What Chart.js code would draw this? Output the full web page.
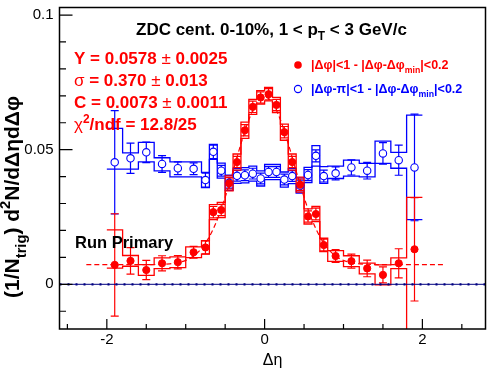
<!DOCTYPE html>
<html>
<head>
<meta charset="utf-8">
<script src="https://cdn.jsdelivr.net/npm/chart.js@4/dist/chart.umd.min.js"></script>
<style>
  html, body { margin: 0; padding: 0; background: #fff; }
  canvas { display: block; }
</style>
</head>
<body>
<canvas id="myChart" width="496" height="374"></canvas>
<script>
// bin centres and half widths in delta-eta
var etaCenters = [-1.9, -1.7, -1.5, -1.3, -1.1, -0.9, -0.75, -0.65, -0.55, -0.45, -0.35, -0.25, -0.15, -0.05,
                  0.05, 0.15, 0.25, 0.35, 0.45, 0.55, 0.65, 0.75, 0.9, 1.1, 1.3, 1.5, 1.7, 1.9];
var etaHalfWidth = [0.1, 0.1, 0.1, 0.1, 0.1, 0.1, 0.05, 0.05, 0.05, 0.05, 0.05, 0.05, 0.05, 0.05,
                    0.05, 0.05, 0.05, 0.05, 0.05, 0.05, 0.05, 0.05, 0.1, 0.1, 0.1, 0.1, 0.1, 0.1];

// near side |dphi|<1 (red, filled)
var nearYield = [0.0072, 0.0087, 0.0053, 0.0078, 0.0082, 0.0119, 0.0137, 0.0268, 0.0276, 0.0375, 0.0454, 0.0572, 0.0659, 0.0694,
                 0.0706, 0.0666, 0.0565, 0.0454, 0.0370, 0.0252, 0.0261, 0.0146, 0.0105, 0.0086, 0.0059, 0.0035, 0.0078, 0.0130];
var nearStat = [0.0190, 0.0049, 0.0036, 0.0028, 0.0025, 0.0022, 0.0024, 0.0021, 0.0021, 0.0021, 0.0021, 0.0021, 0.0021, 0.0021,
                0.0021, 0.0021, 0.0021, 0.0021, 0.0021, 0.0021, 0.0022, 0.0022, 0.0024, 0.0026, 0.0031, 0.0030, 0.0054, 0.0192];
var nearSysUp = [0.0130, 0.0020, 0.0020, 0.0020, 0.0020, 0.0020, 0.0025, 0.0028, 0.0028, 0.0028, 0.0030, 0.0030, 0.0028, 0.0025,
                 0.0025, 0.0028, 0.0030, 0.0030, 0.0028, 0.0028, 0.0028, 0.0025, 0.0020, 0.0020, 0.0020, 0.0037, 0.0020, 0.0193];
var nearSysDown = [0.0012, 0.0020, 0.0020, 0.0020, 0.0020, 0.0020, 0.0025, 0.0028, 0.0028, 0.0028, 0.0030, 0.0030, 0.0028, 0.0025,
                   0.0025, 0.0028, 0.0030, 0.0030, 0.0028, 0.0028, 0.0028, 0.0025, 0.0020, 0.0020, 0.0020, 0.0037, 0.0020, 0.0350];

// away side |dphi-pi|<1 (blue, open)
var awayYield = [0.0453, 0.0468, 0.0490, 0.0447, 0.0431, 0.0429, 0.0387, 0.0492, 0.0422, 0.0377, 0.0403, 0.0405, 0.0411, 0.0393,
                 0.0417, 0.0417, 0.0389, 0.0402, 0.0367, 0.0406, 0.0477, 0.0402, 0.0412, 0.0434, 0.0422, 0.0486, 0.0461, 0.0434];
var awayStat = [0.0192, 0.0056, 0.0038, 0.0031, 0.0024, 0.0022, 0.0026, 0.0025, 0.0020, 0.0020, 0.0020, 0.0020, 0.0020, 0.0020,
                0.0020, 0.0020, 0.0020, 0.0020, 0.0020, 0.0020, 0.0022, 0.0022, 0.0024, 0.0028, 0.0031, 0.0040, 0.0056, 0.0198];
var awaySysUp = [0.0126, 0.0020, 0.0037, 0.0023, 0.0024, 0.0026, 0.0029, 0.0028, 0.0028, 0.0028, 0.0028, 0.0028, 0.0028, 0.0028,
                 0.0028, 0.0028, 0.0028, 0.0028, 0.0028, 0.0028, 0.0038, 0.0035, 0.0027, 0.0027, 0.0027, 0.0046, 0.0029, 0.0194];
var awaySysDown = [0.0025, 0.0040, 0.0035, 0.0026, 0.0032, 0.0030, 0.0028, 0.0028, 0.0028, 0.0028, 0.0028, 0.0028, 0.0028, 0.0028,
                   0.0028, 0.0028, 0.0028, 0.0028, 0.0028, 0.0028, 0.0038, 0.0027, 0.0019, 0.0032, 0.0023, 0.0037, 0.0030, 0.0194];

// dashed fit curve
var fitEta = [-2.26, -1.6, -1.2, -1.0, -0.9, -0.8, -0.7, -0.6, -0.5, -0.4, -0.3, -0.2, -0.1, 0,
              0.1, 0.2, 0.3, 0.4, 0.5, 0.6, 0.7, 0.8, 0.9, 1.0, 1.2, 1.6, 2.27];
var fitValue = [0.0073, 0.0073, 0.0076, 0.0089, 0.0105, 0.0133, 0.0177, 0.0240, 0.0323, 0.0420, 0.0522, 0.0611, 0.0674, 0.0696,
                0.0674, 0.0611, 0.0522, 0.0420, 0.0323, 0.0240, 0.0177, 0.0133, 0.0105, 0.0089, 0.0076, 0.0073, 0.0073];

// zero reference line
var zeroEta = [-2.6, 2.8];
var zeroValue = [0, 0];

// axis ticks
var xTickValues = [-2.5, -2, -1.5, -1, -0.5, 0, 0.5, 1, 1.5, 2, 2.5];
var xTickLabels = ["", "-2", "", "", "", "0", "", "", "", "2", ""];
var yTickValues = [-0.01, 0, 0.01, 0.02, 0.03, 0.04, 0.05, 0.06, 0.07, 0.08, 0.09, 0.1];
var yTickLabels = ["", "0", "", "", "", "", "0.05", "", "", "", "", "0.1"];

var FONT = "'Liberation Sans', Arial, Helvetica, sans-serif";
var RED = "#ff0000";
var BLUE = "#0000ff";

function pairs(xs, ys) {
  var out = [];
  for (var i = 0; i < xs.length; i++) out.push({x: xs[i], y: ys[i]});
  return out;
}

// text made of pieces: {t, s:'sub'|'sup', w}
function richWidth(ctx, parts, size, weight) {
  var w = 0;
  parts.forEach(function (p) {
    var fs = p.s ? size * 0.7 : size;
    ctx.font = (p.w || weight) + " " + fs + "px " + FONT;
    w += ctx.measureText(p.t).width;
  });
  return w;
}
function drawRich(ctx, x, y, parts, size, weight, color) {
  ctx.fillStyle = color;
  ctx.textBaseline = "alphabetic";
  ctx.textAlign = "left";
  parts.forEach(function (p) {
    var fs = p.s ? size * 0.7 : size;
    var dy = p.s === "sub" ? size * 0.32 : (p.s === "sup" ? -size * 0.42 : 0);
    ctx.font = (p.w || weight) + " " + fs + "px " + FONT;
    ctx.fillText(p.t, x, y + dy);
    x += ctx.measureText(p.t).width;
  });
  return x;
}

// systematic bands (step outlines) and vertical error bars, under the markers
var errorPlugin = {
  id: "errorBands",
  beforeDatasetsDraw: function (chart) {
    var ctx = chart.ctx, xs = chart.scales.x, ys = chart.scales.y, area = chart.chartArea;
    ctx.save();
    ctx.beginPath();
    ctx.rect(area.left, area.top, area.right - area.left, area.bottom - area.top);
    ctx.clip();
    function drawSet(vals, stat, up, down, color) {
      ctx.strokeStyle = color;
      ctx.lineWidth = 1.3;
      [1, -1].forEach(function (side) {
        ctx.beginPath();
        for (var i = 0; i < etaCenters.length; i++) {
          var x0 = xs.getPixelForValue(etaCenters[i] - etaHalfWidth[i]);
          var x1 = xs.getPixelForValue(etaCenters[i] + etaHalfWidth[i]);
          var yv = ys.getPixelForValue(side > 0 ? vals[i] + up[i] : vals[i] - down[i]);
          if (i === 0) ctx.moveTo(x0, yv); else ctx.lineTo(x0, yv);
          ctx.lineTo(x1, yv);
        }
        ctx.stroke();
      });
      ctx.lineWidth = 1.2;
      ctx.beginPath();
      for (var j = 0; j < etaCenters.length; j++) {
        var xc = xs.getPixelForValue(etaCenters[j]);
        var yHi = ys.getPixelForValue(vals[j] + stat[j]);
        var yLo = ys.getPixelForValue(vals[j] - stat[j]);
        ctx.moveTo(xc, yHi); ctx.lineTo(xc, yLo);
        ctx.moveTo(xc - 4, yHi); ctx.lineTo(xc + 4, yHi);
        ctx.moveTo(xc - 4, yLo); ctx.lineTo(xc + 4, yLo);
      }
      ctx.stroke();
    }
    drawSet(awayYield, awayStat, awaySysUp, awaySysDown, BLUE);
    drawSet(nearYield, nearStat, nearSysUp, nearSysDown, RED);
    ctx.restore();
  }
};

// ROOT style frame, inward ticks and the text annotations
var framePlugin = {
  id: "rootFrame",
  afterDraw: function (chart) {
    var ctx = chart.ctx, area = chart.chartArea, xs = chart.scales.x, ys = chart.scales.y;
    ctx.save();
    ctx.strokeStyle = "#000";
    ctx.lineWidth = 1.5;
    ctx.strokeRect(area.left, area.top, area.right - area.left, area.bottom - area.top);
    ctx.lineWidth = 1.2;
    ctx.beginPath();
    xTickValues.forEach(function (v, i) {
      var px = xs.getPixelForValue(v);
      var len = xTickLabels[i] ? 10 : 5;
      ctx.moveTo(px, area.bottom); ctx.lineTo(px, area.bottom - len);
    });
    yTickValues.forEach(function (v, i) {
      var py = ys.getPixelForValue(v);
      var len = yTickLabels[i] ? 13 : 6.5;
      ctx.moveTo(area.left, py); ctx.lineTo(area.left + len, py);
    });
    ctx.stroke();

    // header
    drawRich(ctx, 136, 35, [{t: "ZDC cent. 0-10%, 1 < p"}, {t: "T", s: "sub"}, {t: " < 3 GeV/c"}], 17, "bold", "#000");

    // fit results
    var fitLines = [
      [{t: "Y = 0.0578 "}, {t: "\u00b1", w: "normal"}, {t: " 0.0025"}],
      [{t: "\u03c3", w: "normal"}, {t: " = 0.370 "}, {t: "\u00b1", w: "normal"}, {t: " 0.013"}],
      [{t: "C = 0.0073 "}, {t: "\u00b1", w: "normal"}, {t: " 0.0011"}],
      [{t: "\u03c7", w: "normal"}, {t: "2", s: "sup"}, {t: "/ndf = 12.8/25"}]
    ];
    fitLines.forEach(function (parts, i) {
      drawRich(ctx, 74, 64 + i * 22, parts, 17, "bold", RED);
    });

    // legend
    ctx.fillStyle = RED;
    ctx.beginPath(); ctx.arc(298, 65, 3.8, 0, Math.PI * 2); ctx.fill();
    ctx.strokeStyle = BLUE; ctx.lineWidth = 1.1;
    ctx.beginPath(); ctx.arc(298, 89, 3.6, 0, Math.PI * 2); ctx.stroke();
    drawRich(ctx, 311, 69, [{t: "|\u0394\u03c6|<1 - |\u0394\u03c6-\u0394\u03c6"}, {t: "min", s: "sub"}, {t: "|<0.2"}], 12.5, "bold", RED);
    drawRich(ctx, 311, 93, [{t: "|\u0394\u03c6-\u03c0|<1 - |\u0394\u03c6-\u0394\u03c6"}, {t: "min", s: "sub"}, {t: "|<0.2"}], 12.5, "bold", BLUE);

    drawRich(ctx, 75, 248, [{t: "Run Primary"}], 16.5, "bold", "#000");

    // y axis title, rotated
    var yTitle = [{t: "(1/N"}, {t: "trig", s: "sub"}, {t: ") d"}, {t: "2", s: "sup"}, {t: "N/d\u0394\u03b7d\u0394\u03c6"}];
    var tw = richWidth(ctx, yTitle, 21, "bold");
    ctx.translate(19, 197);
    ctx.rotate(-Math.PI / 2);
    drawRich(ctx, -tw / 2, 0, yTitle, 21, "bold", "#000");
    ctx.restore();
  }
};

function noScalePadding(scale) {
  scale.paddingLeft = 0;
  scale.paddingRight = 0;
  scale.paddingTop = 0;
  scale.paddingBottom = 0;
}

var ctx = document.getElementById("myChart").getContext("2d");
var myChart = new Chart(ctx, {
  type: "scatter",
  data: {
    datasets: [
      {
        // near side points
        data: pairs(etaCenters, nearYield),
        pointStyle: "circle",
        pointRadius: 3.6,
        pointBackgroundColor: RED,
        pointBorderColor: RED,
        pointBorderWidth: 1,
        showLine: false,
        order: 1
      },
      {
        // away side points
        data: pairs(etaCenters, awayYield),
        pointStyle: "circle",
        pointRadius: 3.7,
        pointBackgroundColor: "#fff",
        pointBorderColor: BLUE,
        pointBorderWidth: 1.1,
        showLine: false,
        order: 2
      },
      {
        // gaussian + constant fit
        data: pairs(fitEta, fitValue),
        showLine: true,
        borderColor: RED,
        borderWidth: 1.2,
        borderDash: [5, 3],
        cubicInterpolationMode: "monotone",
        pointRadius: 0,
        fill: false,
        order: 3
      },
      {
        data: pairs(zeroEta, zeroValue),
        showLine: true,
        borderColor: "#000080",
        borderWidth: 1,
        pointRadius: 0,
        fill: false,
        order: 4
      },
      {
        data: pairs(zeroEta, zeroValue),
        showLine: true,
        borderColor: "#000080",
        borderWidth: 2.2,
        borderDash: [2, 6],
        pointRadius: 0,
        fill: false,
        order: 5
      }
    ]
  },
  options: {
    responsive: false,
    animation: false,
    devicePixelRatio: 1,
    layout: { padding: { left: 0, right: 10.5, top: 7.5, bottom: 0 } },
    plugins: { legend: { display: false }, tooltip: { enabled: false } },
    scales: {
      x: {
        type: "linear",
        min: -2.6,
        max: 2.8,
        afterFit: function (scale) { scale.height = 45; noScalePadding(scale); },
        afterBuildTicks: function (scale) {
          scale.ticks = xTickValues.map(function (v) { return {value: v}; });
        },
        grid: { display: false, drawTicks: false },
        border: { display: false },
        ticks: {
          autoSkip: false,
          maxRotation: 0,
          padding: 2,
          color: "#000",
          font: { family: FONT, size: 15 },
          callback: function (value, index) { return xTickLabels[index]; }
        },
        title: {
          display: true,
          text: "\u0394\u03b7",
          color: "#000",
          font: { family: FONT, size: 16 },
          padding: { top: 0, bottom: 4 }
        }
      },
      y: {
        type: "linear",
        min: -0.0166,
        max: 0.1028,
        afterFit: function (scale) { scale.width = 59.5; noScalePadding(scale); },
        afterBuildTicks: function (scale) {
          scale.ticks = yTickValues.map(function (v) { return {value: v}; });
        },
        grid: { display: false, drawTicks: false },
        border: { display: false },
        ticks: {
          autoSkip: false,
          padding: 6,
          color: "#000",
          font: { family: FONT, size: 15 },
          callback: function (value, index) { return yTickLabels[index]; }
        }
      }
    }
  },
  plugins: [errorPlugin, framePlugin]
});
</script>
</body>
</html>
